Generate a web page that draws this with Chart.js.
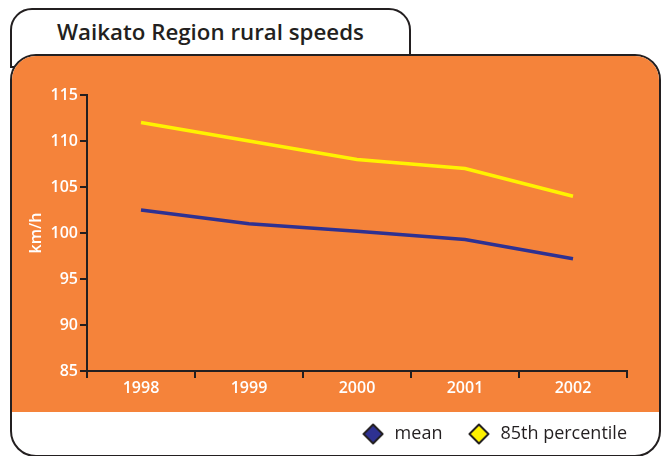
<!DOCTYPE html>
<html>
<head>
<meta charset="utf-8">
<script src="https://cdn.jsdelivr.net/npm/chart.js@4"></script>
<style>
  body { margin: 0; background: #fff; }
  #wrap { position: relative; width: 666px; height: 456px; overflow: hidden; }
  #tab {
    position: absolute; left: 10px; top: 8px; width: 401px; height: 60px;
    box-sizing: border-box; border: 2px solid #231f20; border-radius: 22px 22px 0 0; background: #fff;
  }
  #title {
    position: absolute; left: 57px; top: 16px;
    font: 600 22.3px "Open Sans", sans-serif; color: #231f20;
  }
  #card {
    position: absolute; left: 10px; top: 54px; width: 651px; height: 403px;
    box-sizing: border-box; border: 2px solid #231f20; border-radius: 26px; background: #fff; overflow: hidden;
  }
  #panel { height: 356px; background: #f5833a; }
  canvas { position: absolute; left: 0; top: 0; }
</style>
</head>
<body>
<div id="wrap">
  <div id="tab"></div>
  <div id="title">Waikato Region rural speeds</div>
  <div id="card"><div id="panel"></div></div>
  <canvas id="speedChart" width="666" height="456"></canvas>
</div>
<script>
const years = ['1998', '1999', '2000', '2001', '2002'];
const meanSpeeds = [102.5, 101, 100.2, 99.3, 97.2];
const pct85Speeds = [112, 110, 108, 107, 104];
const seriesNames = ['mean', '85th percentile'];
const seriesColors = ['#2e3192', '#fff200'];

const ink = '#231f20';

// diamond used as the legend marker
function diamond(fill) {
    const c = document.createElement('canvas');
    c.width = 22; c.height = 22;
    const g = c.getContext('2d');
    g.beginPath();
    g.moveTo(11, 1.5); g.lineTo(20.5, 11); g.lineTo(11, 20.5); g.lineTo(1.5, 11);
    g.closePath();
    g.lineJoin = 'round';
    g.fillStyle = fill; g.fill();
    g.lineWidth = 2; g.strokeStyle = ink; g.stroke();
    return c;
}
const markers = seriesColors.map(diamond);

const tickFont = { family: 'Open Sans', size: 16, weight: '600' };

const ctx = document.getElementById('speedChart').getContext('2d');
const speedChart = new Chart(ctx, {
    type: 'line',
    data: {
        labels: years,
        datasets: [{
            label: seriesNames[0],
            data: meanSpeeds,
            borderColor: seriesColors[0],
            backgroundColor: seriesColors[0],
            borderWidth: 3.5,
            pointRadius: 0,
            tension: 0
        }, {
            label: seriesNames[1],
            data: pct85Speeds,
            borderColor: seriesColors[1],
            backgroundColor: seriesColors[1],
            borderWidth: 3.5,
            pointRadius: 0,
            tension: 0
        }]
    },
    options: {
        responsive: false,
        animation: false,
        layout: { padding: { left: 25, top: 95, right: 15, bottom: 3 } },
        plugins: {
            tooltip: { enabled: false },
            legend: {
                position: 'bottom',
                align: 'end',
                labels: {
                    usePointStyle: true,
                    pointStyleWidth: 25,
                    padding: 24,
                    color: ink,
                    font: { family: 'Open Sans', size: 18, weight: '500' },
                    generateLabels: chart => {
                        const items = Chart.defaults.plugins.legend.labels.generateLabels(chart);
                        items.forEach((it, i) => { it.pointStyle = markers[i]; });
                        return items;
                    }
                }
            }
        },
        scales: {
            x: {
                offset: true,
                grid: { offset: true, drawOnChartArea: false, tickLength: 7, color: ink, lineWidth: 2 },
                border: { color: ink, width: 2 },
                ticks: { color: '#fff', font: tickFont, padding: 1, maxRotation: 0 },
                afterFit: scale => { scale.height = 30; }
            },
            y: {
                min: 85,
                max: 115,
                ticks: { stepSize: 5, color: '#fff', font: tickFont, padding: 2 },
                grid: { drawOnChartArea: false, tickLength: 7, color: ink, lineWidth: 2 },
                border: { color: ink, width: 2 },
                title: { display: true, text: 'km/h', color: '#fff', font: { family: 'Open Sans', size: 16, weight: '600' }, padding: { top: 2, bottom: 0 } },
                afterFit: scale => { scale.width = 62; }
            },
            // empty axis on the right, only there to keep the plot narrower than the legend row
            y2: {
                position: 'right',
                display: true,
                grid: { display: false },
                border: { display: false },
                ticks: { display: false },
                afterFit: scale => { scale.width = 24; }
            }
        }
    }
});
</script>
</body>
</html>
